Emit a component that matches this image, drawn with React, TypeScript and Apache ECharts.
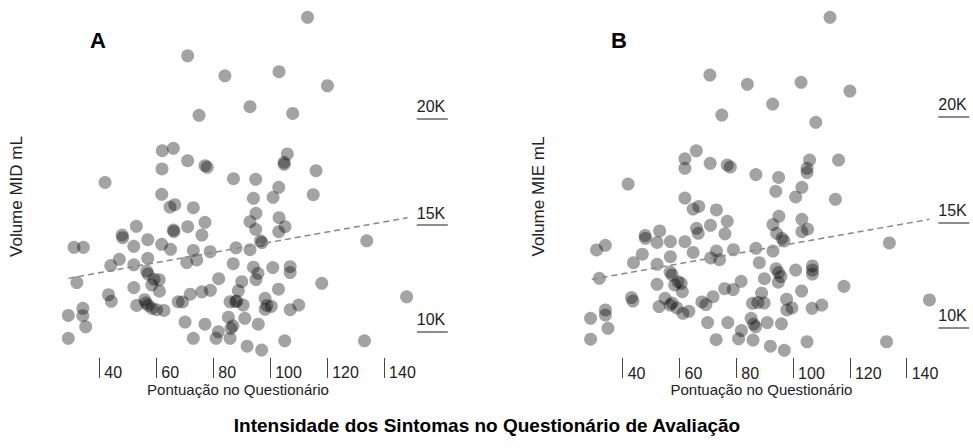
import React, { useEffect, useRef } from "react";
import * as echarts from "echarts";

// Panel A — Pontuação no Questionário (x) vs Volume MID mL (y)
const scoreA = [113.1,71.0,84.1,103.1,120.1,92.9,107.9,75.0,62.1,66.0,
  71.0,77.1,77.9,106.0,104.9,104.9,62.0,116.1,87.1,94.9,
  42.0,103.0,101.0,94.1,115.1,61.9,64.8,66.5,73.0,95.0,
  92.9,94.9,103.1,105.2,103.0,77.1,71.0,66.0,66.2,53.0,
  48.0,48.2,57.0,61.9,65.0,52.1,73.0,78.9,88.0,92.9,
  96.6,97.1,133.9,31.1,34.4,47.0,44.0,57.0,52.1,70.7,
  74.2,87.0,94.1,95.7,95.0,100.9,107.0,107.0,56.6,57.1,
  59.2,61.0,58.4,61.1,81.9,90.0,118.1,32.1,52.1,102.9,
  43.2,44.2,53.1,55.9,57.2,56.4,58.5,60.1,62.7,67.7,
  69.2,71.9,76.0,79.0,88.8,87.8,85.9,88.3,90.5,98.2,
  98.8,100.4,98.2,107.0,110.0,147.9,34.2,34.2,29.1,35.2,
  29.1,70.1,77.1,85.3,86.9,86.2,91.1,95.8,81.8,81.0,
  85.9,73.0,91.9,97.0,105.1,133.1,76.0];
const volumeMID = [24770,22960,22020,22210,21550,20565,20250,20160,18495,18610,
  18025,17790,17715,18340,17950,17855,17635,17555,17180,17150,
  17000,16775,16305,16255,16425,16445,15845,15955,15815,15550,
  15155,14800,15345,14920,14685,15125,14920,14765,14695,14940,
  14530,14405,14310,14095,13855,14000,13805,13745,13930,13840,
  14255,14175,14255,13950,13950,13385,13095,13435,13130,13235,
  13355,13180,13015,12730,12435,13000,13040,12765,12835,12695,
  12445,12425,12190,11885,12475,12335,12260,12295,12060,11980,
  11720,11410,11215,11485,11215,11330,11080,11015,10980,11390,
  11380,11745,11860,11930,11910,11400,11390,11425,11235,11550,
  11215,11175,11035,11015,11235,11625,11080,10735,10745,10215,
  9670,10435,10335,10665,10260,10140,10610,10335,9980,9670,
  9670,9670,9300,9120,9555,9555,14530];

// Panel B — Pontuação no Questionário (x) vs Volume MIE mL (y)
const scoreB = [113.0,70.7,83.9,102.8,120.0,92.8,74.9,108.0,65.9,61.9,
  61.9,70.8,76.8,77.9,86.9,94.9,105.8,104.9,104.9,116.0,
  41.9,61.9,64.8,66.8,73.0,76.8,70.9,66.0,66.6,76.0,
  53.0,47.9,48.0,52.1,56.8,61.9,79.0,64.8,71.0,73.0,
  74.1,56.8,46.9,43.8,52.1,30.8,33.9,31.8,86.9,88.1,
  92.9,95.0,94.2,96.1,96.8,92.9,93.9,103.1,100.9,103.1,
  105.1,103.1,114.9,133.9,106.8,106.8,106.8,100.9,94.0,94.9,
  95.7,94.8,89.9,81.7,78.9,75.9,103.0,117.9,148.0,88.9,
  85.7,87.6,89.8,97.7,97.8,99.6,106.7,110.1,71.8,67.9,
  69.3,52.8,54.9,56.7,57.4,59.1,61.2,63.3,56.7,57.4,
  59.5,60.6,58.3,61.0,52.1,43.1,43.6,33.9,33.9,28.7,
  34.8,28.7,69.9,77.0,85.2,86.1,86.8,90.9,95.9,81.8,
  80.8,85.9,72.9,92.0,96.9,104.9,132.9];
const volumeMIE = [24715,21980,21540,21635,21220,20605,20085,19740,18390,18010,
  17560,17795,17715,17620,17265,17125,17950,17560,17360,17950,
  16815,16150,15630,15750,15585,15045,14860,14715,14480,14455,
  14590,14375,14240,14045,14090,14080,13700,13570,13310,13640,
  13230,13370,13490,13085,13010,13690,13910,12345,13770,13085,
  14895,15285,14480,14240,14115,13640,16470,16660,16200,15140,
  14675,14555,16090,14020,12930,12740,12550,12740,12795,12620,
  12430,12160,12330,12205,11815,11855,11745,11965,11320,11650,
  11160,11200,11175,11355,10845,10940,10925,11080,11475,11225,
  11105,11010,11400,11080,11175,10940,10690,10780,12645,12505,
  12185,12110,12030,11710,12060,11435,11270,10845,10605,10450,
  9975,9460,10250,10250,10450,10180,10050,10250,10190,9870,
  9480,9420,9435,9130,8935,9340,9340];

// Trend lines (start / end)
const trendA = [[29.1, 12490], [148.2, 15345]];
const trendB = [[29.1, 12300], [148.0, 15140]];

const xTicks = [40, 60, 80, 100, 120, 140];
const yTicks = [10000, 15000, 20000];

const FONT = "'Liberation Sans', Arial, Helvetica, sans-serif";

function zip(xs: number[], ys: number[]) {
  return xs.map((x, i) => [x, ys[i]]);
}

export default function App() {
  const ref = useRef<HTMLDivElement>(null);
  useEffect(() => {
    if (!ref.current) return;
    const chart = echarts.init(ref.current, null, { renderer: "svg" });
    const grids = [
      { left: 42.4, top: 12.4, width: 370.2, height: 345.5 },
      { left: 565.9, top: 11.3, width: 369.2, height: 342.9 },
    ];
    const xAxes = [0, 1].map((i) => ({
      gridIndex: i,
      type: "value",
      min: 20,
      max: 150,
      offset: i === 0 ? 0 : 3.8,
      axisLine: { show: false },
      splitLine: { show: false },
      axisTick: { show: true, customValues: xTicks, length: 20, lineStyle: { color: "#444", width: 1 } },
      axisLabel: {
        customValues: xTicks,
        align: "left",
        padding: [0, 0, 0, 5],
        margin: 7,
        fontSize: 16,
        color: "#222",
        fontFamily: FONT,
      },
    }));
    const yAxes = [0, 1].map((i) => ({
      gridIndex: i,
      type: "value",
      position: "right",
      min: 8750,
      max: 25000,
      offset: i === 0 ? 4.2 : 3.2,
      axisLine: { show: false },
      splitLine: { show: false },
      axisTick: { show: true, customValues: yTicks, length: 31, lineStyle: { color: "#666", width: 1.5 } },
      axisLabel: {
        customValues: yTicks,
        formatter: (v: number) => v / 1000 + "K",
        align: "left",
        verticalAlign: "bottom",
        padding: [0, 0, 4, 0],
        margin: 0,
        fontSize: 16,
        color: "#222",
        fontFamily: FONT,
      },
    }));
    const scatterStyle = { color: "rgba(0,0,0,0.45)" };
    const trendStyle = { color: "#888", width: 1.5, type: [6, 4] };
    const yName = (label: string, x: number) => ({
      type: "text",
      x,
      y: 196.5,
      rotation: Math.PI / 2,
      style: {
        text: label,
        fontSize: 17,
        fontFamily: FONT,
        fill: "#222",
        textAlign: "center",
        textVerticalAlign: "middle",
      },
    });
    const xName = (x: number) => ({
      type: "text",
      x,
      y: 389,
      style: {
        text: "Pontuação no Questionário",
        fontSize: 15,
        fontFamily: FONT,
        fill: "#222",
        textAlign: "center",
        textVerticalAlign: "middle",
      },
    });
    const letter = (t: string, x: number) => ({
      type: "text",
      x,
      y: 40,
      style: {
        text: t,
        fontSize: 22,
        fontWeight: "bold",
        fontFamily: FONT,
        fill: "#000",
        textAlign: "left",
        textVerticalAlign: "middle",
      },
    });
    chart.setOption({
      animation: false,
      backgroundColor: "#fff",
      grid: grids,
      xAxis: xAxes,
      yAxis: yAxes,
      series: [
        { type: "scatter", xAxisIndex: 0, yAxisIndex: 0, symbolSize: 13, itemStyle: scatterStyle, data: zip(scoreA, volumeMID), z: 2 },
        { type: "scatter", xAxisIndex: 1, yAxisIndex: 1, symbolSize: 13, itemStyle: scatterStyle, data: zip(scoreB, volumeMIE), z: 2 },
        { type: "line", xAxisIndex: 0, yAxisIndex: 0, data: trendA, showSymbol: false, symbol: "none", lineStyle: trendStyle, z: 3 },
        { type: "line", xAxisIndex: 1, yAxisIndex: 1, data: trendB, showSymbol: false, symbol: "none", lineStyle: trendStyle, z: 3 },
      ],
      graphic: [
        letter("A", 90),
        letter("B", 611),
        yName("Volume MID mL", 16.7),
        yName("Volume MIE mL", 538),
        xName(238),
        xName(761.4),
        {
          type: "text",
          x: 487,
          y: 425,
          style: {
            text: "Intensidade dos Sintomas no Questionário de Avaliação",
            fontSize: 19,
            fontWeight: "bold",
            fontFamily: FONT,
            fill: "#000",
            textAlign: "center",
            textVerticalAlign: "middle",
          },
        },
      ],
    });
    return () => chart.dispose();
  }, []);
  return (
    <div
      ref={ref}
      style={{ position: "absolute", left: 0, top: 0, width: 973, height: 448, background: "#fff" }}
    />
  );
}
